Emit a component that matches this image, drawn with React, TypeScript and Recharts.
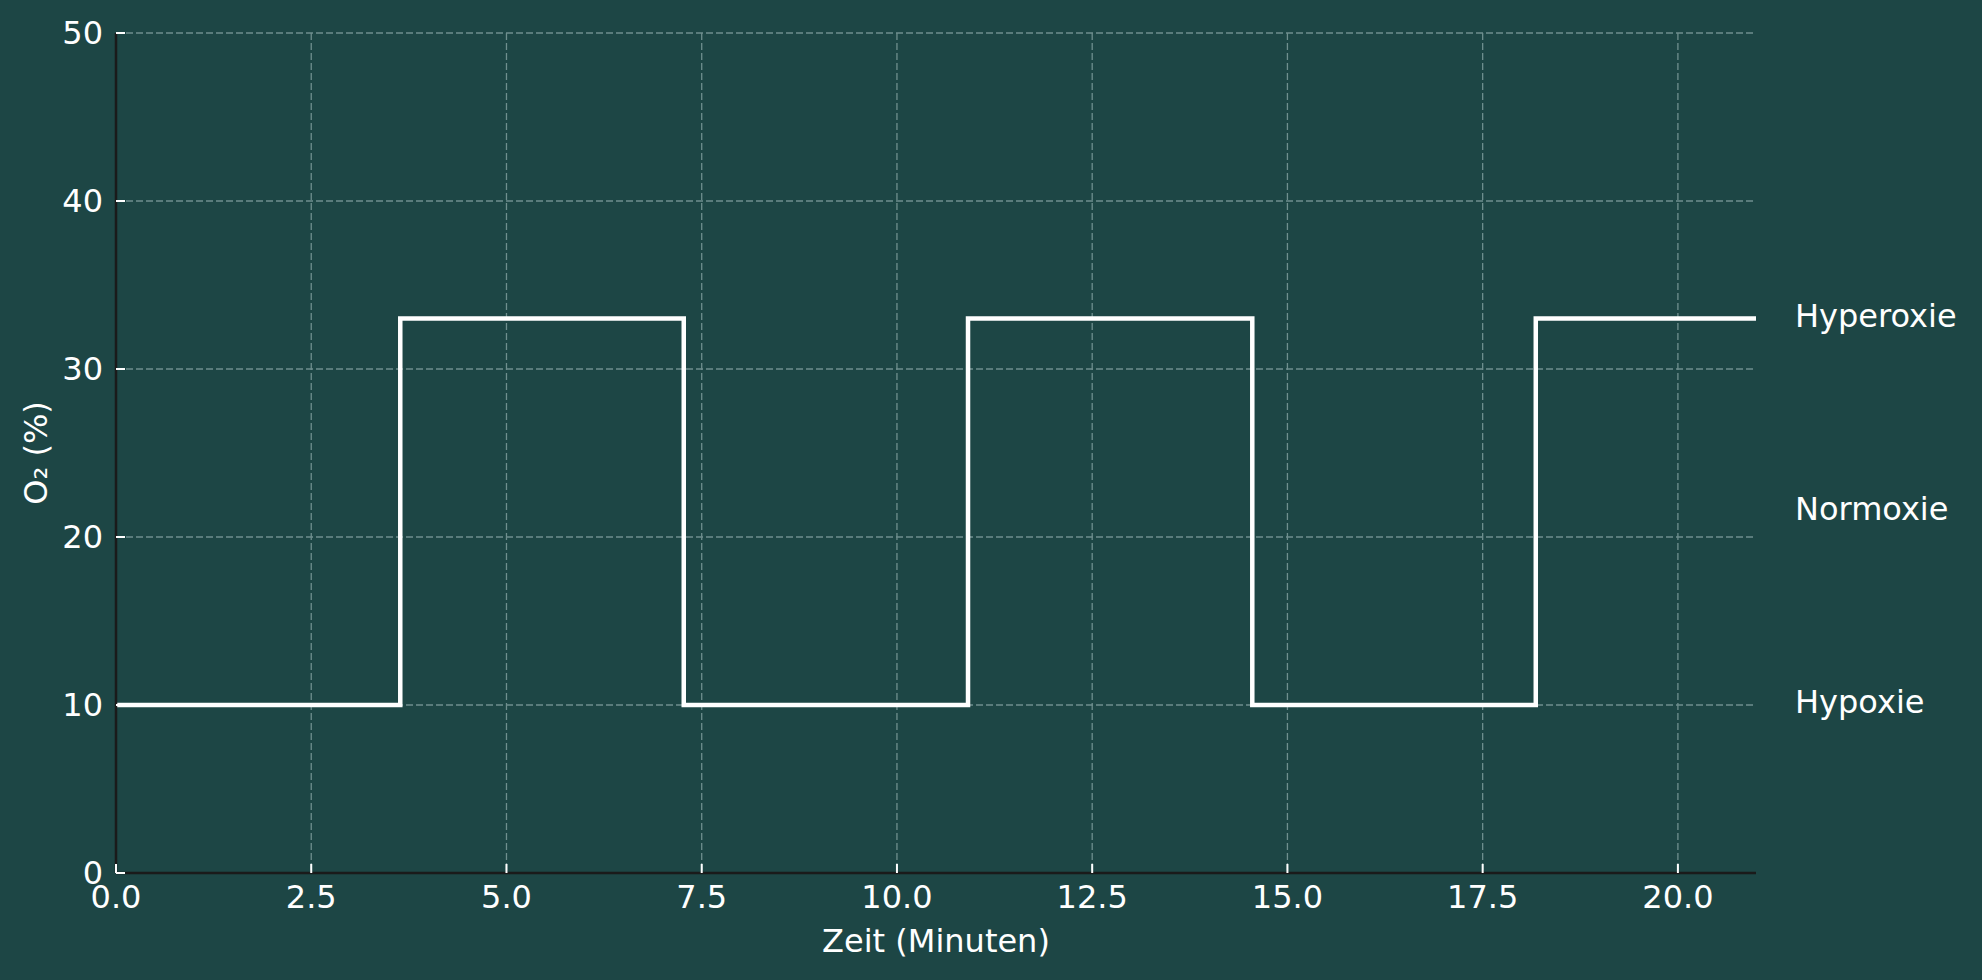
import React from "react";
import {
  LineChart,
  Line,
  XAxis,
  YAxis,
  CartesianGrid,
  ReferenceDot,
} from "recharts";

// switching times (min) and O2 level after each switch
const switchTimes = [0, 3.64, 7.27, 10.91, 14.55, 18.18, 21];
const o2Levels = [10, 33, 10, 33, 10, 33, 33];

const xTicks = [0, 2.5, 5, 7.5, 10, 12.5, 15, 17.5, 20];
const yTicks = [0, 10, 20, 30, 40, 50];

const zoneNames = ["Hyperoxie", "Normoxie", "Hypoxie"];
const zoneLevels = [33, 21.5, 10];
const zoneX = 21.5;

const data = switchTimes.map((t, i) => ({ t, o2: o2Levels[i] }));

const BG = "#1d4645";
const FONT = "DejaVu Sans";
const FS = 32;

const XTick = (props: any) => {
  const { x, y, payload } = props;
  return (
    <g>
      <line x1={x} x2={x} y1={y} y2={y - 9} stroke="#ffffff" strokeWidth={2} />
      <text
        x={x}
        y={y + 35}
        textAnchor="middle"
        fill="#ffffff"
        fontFamily={FONT}
        fontSize={FS}
      >
        {Number(payload.value).toFixed(1)}
      </text>
    </g>
  );
};

const YTick = (props: any) => {
  const { x, y, payload } = props;
  return (
    <g>
      <line x1={x} x2={x + 9} y1={y} y2={y} stroke="#ffffff" strokeWidth={2} />
      <text
        x={x - 13}
        y={y + 11}
        textAnchor="end"
        fill="#ffffff"
        fontFamily={FONT}
        fontSize={FS}
      >
        {payload.value}
      </text>
    </g>
  );
};

const ZoneLabel = (name: string) => (props: any) => (
  <text
    x={props.cx}
    y={props.cy + 8}
    textAnchor="start"
    fill="#ffffff"
    fontFamily={FONT}
    fontSize={FS}
  >
    {name}
  </text>
);

export default function App() {
  return (
    <div
      style={{
        position: "absolute",
        left: 0,
        top: 0,
        width: 1982,
        height: 980,
        background: BG,
      }}
    >
      <LineChart
        width={1982}
        height={980}
        data={data}
        margin={{ top: 33, right: 226, left: 0, bottom: 37 }}
      >
        <CartesianGrid
          stroke="#6f8f8e"
          strokeWidth={1.3}
          strokeDasharray="7 3"
          verticalValues={xTicks}
          horizontalValues={yTicks}
        />
        <XAxis
          dataKey="t"
          type="number"
          domain={[0, 21]}
          ticks={xTicks}
          interval={0}
          tickSize={0}
          tickMargin={0}
          tick={<XTick />}
          height={70}
          axisLine={{ stroke: "#1a1a1a", strokeWidth: 2.5 }}
          label={{
            content: (p: any) => (
              <text
                x={p.viewBox.x + p.viewBox.width / 2}
                y={952}
                textAnchor="middle"
                fill="#ffffff"
                fontFamily={FONT}
                fontSize={FS}
              >
                Zeit (Minuten)
              </text>
            ),
          }}
        />
        <YAxis
          type="number"
          domain={[0, 50]}
          ticks={yTicks}
          interval={0}
          tickSize={0}
          tickMargin={0}
          tick={<YTick />}
          width={116}
          axisLine={{ stroke: "#1a1a1a", strokeWidth: 2.5 }}
          label={{
            content: (p: any) => {
              const cy = p.viewBox.y + p.viewBox.height / 2;
              return (
                <text
                  x={47}
                  y={cy}
                  transform={`rotate(-90 47 ${cy})`}
                  textAnchor="middle"
                  fill="#ffffff"
                  fontFamily={FONT}
                  fontSize={FS}
                >
                  O₂ (%)
                </text>
              );
            },
          }}
        />
        <Line
          type="stepAfter"
          dataKey="o2"
          stroke="#ffffff"
          strokeWidth={4.5}
          dot={false}
          isAnimationActive={false}
        />
        {zoneNames.map((name, i) => (
          <ReferenceDot
            key={name}
            x={zoneX}
            y={zoneLevels[i]}
            r={0}
            ifOverflow="visible"
            shape={ZoneLabel(name)}
          />
        ))}
      </LineChart>
    </div>
  );
}
